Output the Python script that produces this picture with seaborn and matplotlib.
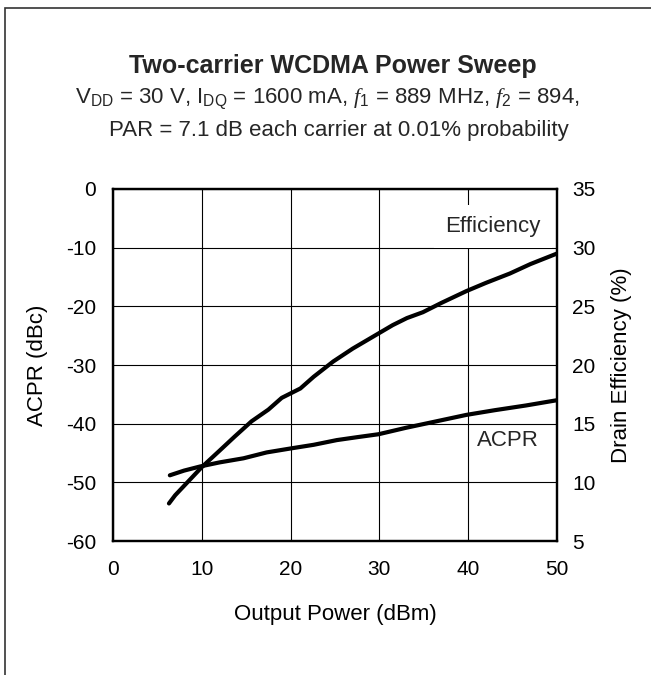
"""
plot.py
-------
Two-carrier WCDMA power sweep : ACPR et rendement drain vs puissance de sortie.
"""

import pandas as pd
import matplotlib
matplotlib.use("Agg")
import matplotlib.pyplot as plt
from matplotlib.patches import Rectangle
import seaborn as sns


# Données
power_eff = [6.3, 7.0, 8.5, 10.0, 12.0, 13.7, 15.6, 17.5, 19.0, 21.1, 22.6,
             24.8, 27.0, 29.7, 31.5, 33.1, 34.9, 37.0, 39.8, 42.0, 44.7, 47.0, 50.0]
efficiency = [8.2, 8.9, 10.1, 11.3, 12.7, 13.9, 15.2, 16.2, 17.2, 18.0, 19.0,
              20.3, 21.4, 22.6, 23.4, 24.0, 24.5, 25.3, 26.3, 27.0, 27.8, 28.6, 29.5]

power_acpr = [6.4, 8.0, 9.8, 12.0, 14.7, 17.3, 20.1, 22.6, 25.2, 27.5, 29.9,
              33.0, 36.1, 39.8, 43.0, 46.5, 50.0]
acpr = [-48.8, -48.0, -47.3, -46.6, -45.9, -44.9, -44.2, -43.6, -42.8, -42.3, -41.8,
        -40.7, -39.7, -38.5, -37.7, -36.9, -36.0]

x_ticks = [0, 10, 20, 30, 40, 50]
acpr_ticks = [0, -10, -20, -30, -40, -50, -60]
eff_ticks = [5, 10, 15, 20, 25, 30, 35]

sns.set_theme(style="white")
plt.rcParams["font.family"] = ["Liberation Sans", "DejaVu Sans"]
plt.rcParams["axes.unicode_minus"] = False
plt.rcParams["mathtext.fontset"] = "custom"
plt.rcParams["mathtext.rm"] = "Liberation Sans"
plt.rcParams["mathtext.it"] = "Liberation Serif:italic"

df_eff = pd.DataFrame({"power": power_eff, "eff": efficiency})
df_acpr = pd.DataFrame({"power": power_acpr, "acpr": acpr})

fig = plt.figure(figsize=(6.51, 6.75), dpi=100)
ax = fig.add_axes([0.1736, 0.1985, 0.682, 0.5215])
ax2 = ax.twinx()

sns.lineplot(data=df_acpr, x="power", y="acpr", ax=ax, color="black", lw=3)
sns.lineplot(data=df_eff, x="power", y="eff", ax=ax2, color="black", lw=3)

ax.set_xlim(0, 50)
ax.set_ylim(-60, 0)
ax2.set_ylim(5, 35)
ax.set_xticks(x_ticks)
ax.set_yticks(acpr_ticks)
ax2.set_yticks(eff_ticks)
ax.grid(True, color="black", lw=0.8)
ax.tick_params(axis="y", length=0, labelsize=15, colors="black", pad=12)
ax.tick_params(axis="x", length=0, labelsize=15, colors="black", pad=14)
ax2.tick_params(length=0, labelsize=15, colors="black", pad=11)
for a in (ax, ax2):
    for s in a.spines.values():
        s.set_color("black")
        s.set_linewidth(1.6)

ax.set_xlabel("Output Power (dBm)", fontsize=16, color="black", labelpad=18)
ax.set_ylabel("ACPR (dBc)", fontsize=16, color="black", labelpad=13)
ax2.set_ylabel("Drain Efficiency (%)", fontsize=16, color="black", labelpad=11)

# Étiquettes des courbes
ax2.text(42.8, 31.8, "Efficiency", fontsize=16, ha="center", va="center",
         bbox=dict(facecolor="white", edgecolor="none", boxstyle="square,pad=0.5"))
ax2.text(44.5, 13.6, "ACPR", fontsize=16, ha="center", va="center")

# Titre et conditions
fig.text(0.511, 0.902, "Two-carrier WCDMA Power Sweep", fontsize=18,
         fontweight="bold", ha="center", va="center")
fig.text(0.503, 0.853,
         r"V$_{\mathrm{DD}}$ = 30 V, I$_{\mathrm{DQ}}$ = 1600 mA, "
         r"$f_{\mathrm{1}}$ = 889 MHz, $f_{\mathrm{2}}$ = 894,",
         fontsize=16, ha="center", va="center")
fig.text(0.52, 0.806, "PAR = 7.1 dB each carrier at 0.01% probability",
         fontsize=16, ha="center", va="center")

# Cadre autour de la figure
fig.patches.append(Rectangle((5 / 651, -0.05), 1.1, 1 - 8 / 675 + 0.05,
                             transform=fig.transFigure, fill=False,
                             edgecolor="#333333", lw=1.2))

plt.savefig("out.png", dpi=100)
plt.close()
